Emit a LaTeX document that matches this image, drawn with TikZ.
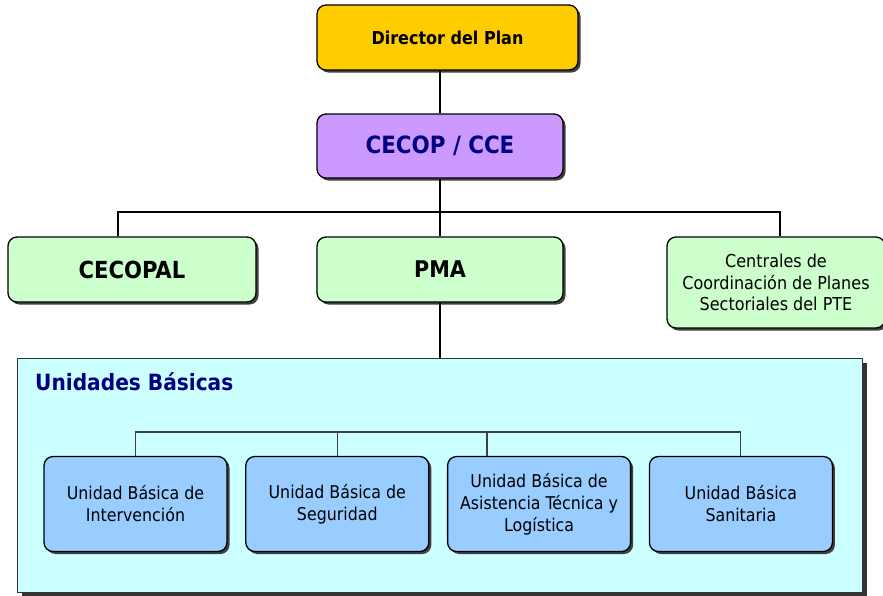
\documentclass[tikz,border=0pt]{standalone}
\usepackage{fontspec}
\setmainfont{DejaVu Sans Condensed}
\usetikzlibrary{positioning,shadows}

\definecolor{dirfill}{HTML}{FFCC00}
\definecolor{cecopfill}{HTML}{CC99FF}
\definecolor{greenfill}{HTML}{CCFFCC}
\definecolor{ubfill}{HTML}{CCFFFF}
\definecolor{unitfill}{HTML}{99CCFF}
\definecolor{navytext}{HTML}{000080}

\tikzset{
  box/.style={rectangle, rounded corners=9pt, draw=black, line width=1.3pt,
    align=center, inner sep=2pt,
    drop shadow={shadow xshift=2.5pt, shadow yshift=-2.5pt,
      fill=black!75, opacity=1}},
  unit/.style={box, fill=unitfill, minimum width=183pt, minimum height=95pt,
    font=\fontsize{17.6}{22}\selectfont},
  link/.style={draw=black, line width=1.3pt},
  sublink/.style={draw=black!75, line width=1.1pt}
}

\begin{document}
\begin{tikzpicture}[x=1pt,y=-1pt]
   \useasboundingbox (0,0) rectangle (883,595);

   \node[box,
         fill=dirfill,
         minimum width=261pt,
         minimum height=65pt,
         font=\bfseries\fontsize{17.8}{21}\selectfont] (dir) at (447.5,37.5) {Director del Plan};
   \node[box,
         fill=cecopfill,
         minimum width=246pt,
         minimum height=64pt,
         text=navytext,
         font=\bfseries\fontsize{23.8}{28}\selectfont] (cecop) at (440,146) {CECOP / CCE};
   \node[box,
         fill=greenfill,
         minimum width=248pt,
         minimum height=65pt,
         font=\bfseries\fontsize{23.5}{27}\selectfont] (cecopal) at (132,269.5) {CECOPAL};
   \node[box,
         fill=greenfill,
         minimum width=246pt,
         minimum height=65pt,
         font=\bfseries\fontsize{23}{27}\selectfont] (pma) at (440,269.5) {PMA};
   \node[box,
         fill=greenfill,
         minimum width=218pt,
         minimum height=91pt,
         font=\fontsize{17.8}{21.5}\selectfont] (cent) at (776,282.5)
         {Centrales de\\Coordinación de Planes\\Sectoriales del PTE};

   % big frame with the basic units
   \node[rectangle,
         draw=black!80,
         line width=1pt,
         fill=ubfill,
         minimum width=845pt,
         minimum height=234pt,
         drop shadow={shadow xshift=4.5pt, shadow yshift=-4.5pt,
           fill=black!80, opacity=1}] (ub) at (439.5,475) {};
   \node[anchor=west,
         inner sep=0pt,
         text=navytext,
         font=\bfseries\fontsize{22.4}{26}\selectfont] (ubt) at (35,382) {Unidades Básicas};

   \node[unit] (u1) at (135.5,504) {Unidad Básica de\\Intervención};
   \node[unit, right=17.5pt of u1] (u2) {Unidad Básica de\\Seguridad};
   \node[unit, right=17.5pt of u2] (u3) {Unidad Básica de\\Asistencia Técnica y\\Logística};
   \node[unit, right=17.5pt of u3] (u4) {Unidad Básica\\Sanitaria};

   % Connect the boxes
   \coordinate (jl) at (118,212);
   \coordinate (jr) at (780,212);
   \coordinate (ib) at (0,432);
   \coordinate (j3) at (487,432);

   \draw[link] (dir.south -| cecop.north) -- (cecop.north);
   \draw[link] (cecop.south) -- (pma.north);
   \draw[link] (jl |- cecopal.north) -- (jl) -- (jr) -- (jr |- cent.north);
   \draw[link] (pma.south) -- (pma.south |- ub.north);

   \draw[sublink] (u1.north) -- (u1.north |- ib) -- (u4.north |- ib) -- (u4.north);
   \draw[sublink] (u2.north) -- (u2.north |- ib);
   \draw[sublink] (j3) -- (j3 |- u3.north);
\end{tikzpicture}
\end{document}
